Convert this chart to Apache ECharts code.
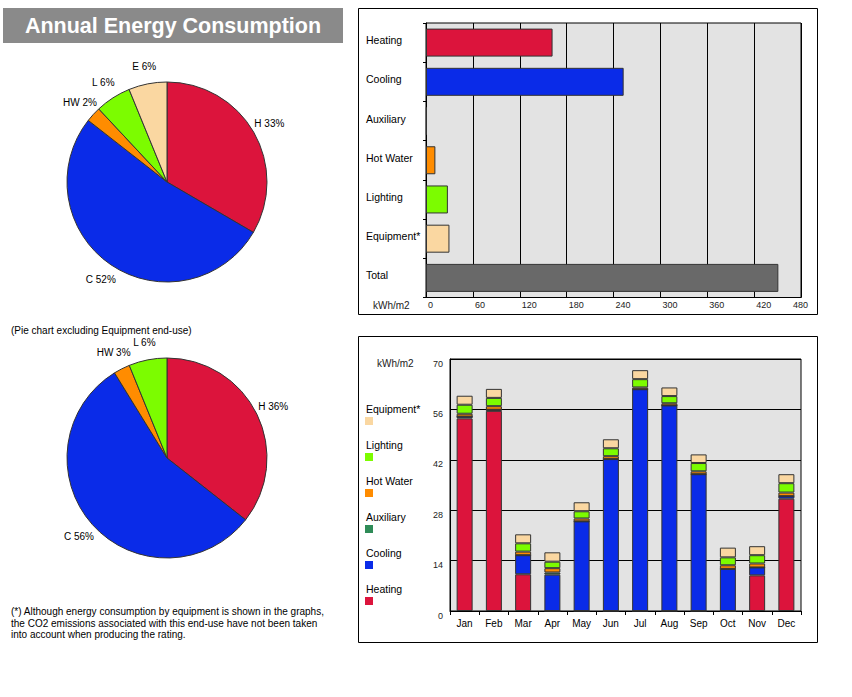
<!DOCTYPE html>
<html>
<head>
<meta charset="utf-8">
<script src="https://cdn.jsdelivr.net/npm/echarts@6/dist/echarts.min.js"></script>
<style>
html,body{margin:0;padding:0;background:#fff;}
#main{width:852px;height:697px;}
</style>
</head>
<body>
<div id="main"></div>
<script>
// ---- data ----
const endUses = ['Heating', 'Cooling', 'Auxiliary', 'Hot Water', 'Lighting', 'Equipment*', 'Total'];
const annualValues = [162, 253, 1, 12, 28, 30, 451];

const pieNames = ['Heating', 'Cooling', 'Hot Water', 'Lighting', 'Equipment*'];
const pieAbbr = ['H', 'C', 'HW', 'L', 'E'];
const pieValues = [162, 253, 12, 28, 30];
const pie2Names = ['Heating', 'Cooling', 'Hot Water', 'Lighting'];
const pie2Abbr = ['H', 'C', 'HW', 'L'];
const pie2Values = [162, 253, 12, 28];

const months = ['Jan', 'Feb', 'Mar', 'Apr', 'May', 'Jun', 'Jul', 'Aug', 'Sep', 'Oct', 'Nov', 'Dec'];
const heatingM = [53.5, 55.6, 10.2, 0, 0, 0, 0, 0, 0, 0, 9.9, 31.2];
const coolingM = [0.5, 0.3, 5.3, 10.1, 24.9, 42.2, 61.6, 57.1, 38.0, 11.7, 2.2, 0.7];
const auxiliaryM = [0, 0, 0, 0.6, 0, 0, 0, 0, 0, 0, 0, 0];
const hotWaterM = [0.8, 1.0, 1.0, 1.2, 0.8, 0.8, 0.5, 0.6, 0.8, 1.0, 1.1, 1.0];
const lightingM = [2.5, 2.3, 2.3, 1.8, 2.0, 2.2, 2.3, 2.0, 2.3, 2.2, 2.3, 2.6];
const equipmentM = [2.5, 2.5, 2.5, 2.6, 2.5, 2.5, 2.5, 2.4, 2.4, 2.7, 2.5, 2.5];

const yTicksMonthly = [0, 14, 28, 42, 56, 70];
const xTicksAnnual = [0, 60, 120, 180, 240, 300, 360, 420, 480];

// ---- styles ----
const FONT = '"Liberation Sans", Arial, sans-serif';
const colors = {
  'Heating': '#dc143c',
  'Cooling': '#0a2be8',
  'Auxiliary': '#2e8b57',
  'Hot Water': '#ff8c00',
  'Lighting': '#7cfc00',
  'Equipment*': '#fad7a1',
  'Total': '#696969'
};
const EDGE = '#333';
const PLOTBG = '#e3e3e3';

const chart = echarts.init(document.getElementById('main'), null, {renderer: 'svg', width: 852, height: 697});

function pieSeries(names, values, cy) {
  return {
    type: 'pie',
    center: [167, cy],
    radius: 100,
    startAngle: 90,
    clockwise: true,
    silent: true,
    data: names.map((n, i) => ({name: n, value: values[i], itemStyle: {color: colors[n]}})),
    itemStyle: {borderColor: EDGE, borderWidth: 1},
    label: {show: false},
    labelLine: {show: false},
    emphasis: {disabled: true}
  };
}
// transparent companion pie: carries the percentage labels, centred ~115px from the centre
function pieLabelSeries(names, abbr, values, cy) {
  return {
    type: 'pie',
    center: [167, cy],
    radius: [0, 230],
    startAngle: 90,
    clockwise: true,
    silent: true,
    z: 3,
    data: names.map((n, i) => ({name: n, value: values[i]})),
    itemStyle: {color: 'rgba(0,0,0,0)', borderWidth: 0},
    label: {
      show: true,
      position: 'inside',
      color: '#000',
      fontFamily: FONT,
      fontSize: 10,
      formatter: p => abbr[p.dataIndex] + ' ' + Math.round(p.percent) + '%'
    },
    labelLine: {show: false},
    emphasis: {disabled: true}
  };
}

const stackOrder = [
  ['Heating', heatingM],
  ['Cooling', coolingM],
  ['Auxiliary', auxiliaryM],
  ['Hot Water', hotWaterM],
  ['Lighting', lightingM],
  ['Equipment*', equipmentM]
];
const legendOrder = ['Equipment*', 'Lighting', 'Hot Water', 'Auxiliary', 'Cooling', 'Heating'];

const option = {
  animation: false,
  textStyle: {fontFamily: FONT},
  graphic: [
    {type: 'rect', shape: {x: 3, y: 8, width: 340, height: 35}, style: {fill: '#8a8a8a'}, silent: true},
    {type: 'text', x: 173, y: 26, style: {text: 'Annual Energy Consumption', fill: '#fff', font: 'bold 21.5px ' + FONT, textAlign: 'center', textVerticalAlign: 'middle'}, silent: true},
    {type: 'rect', shape: {x: 358.5, y: 8.5, width: 459, height: 306}, style: {fill: 'none', stroke: '#000', lineWidth: 1}, silent: true},
    {type: 'rect', shape: {x: 358.5, y: 336.5, width: 459, height: 306}, style: {fill: 'none', stroke: '#000', lineWidth: 1}, silent: true},
    {type: 'text', x: 373, y: 305, style: {text: 'kWh/m2', fill: '#222', font: '10px ' + FONT, textVerticalAlign: 'middle'}, silent: true},
    {type: 'text', x: 377, y: 363, style: {text: 'kWh/m2', fill: '#222', font: '10px ' + FONT, textVerticalAlign: 'middle'}, silent: true},
    {type: 'text', x: 11, y: 330, style: {text: '(Pie chart excluding Equipment end-use)', fill: '#000', font: '10px ' + FONT, textVerticalAlign: 'middle'}, silent: true},
    {type: 'text', x: 11, y: 606, style: {text: '(*) Although energy consumption by equipment is shown in the graphs,\nthe CO2 emissions associated with this end-use have not been taken\ninto account when producing the rating.', fill: '#000', font: '10px ' + FONT, lineHeight: 11.5}, silent: true}
  ],
  legend: [
    {
      orient: 'vertical', left: 360, top: 412, itemWidth: 8, itemHeight: 8, itemGap: 28,
      icon: 'rect', selectedMode: false, data: legendOrder,
      formatter: () => '', textStyle: {fontSize: 8, lineHeight: 8},
      itemStyle: {borderWidth: 0}
    },
    {
      orient: 'vertical', left: 356, top: 398, itemWidth: 0, itemHeight: 0, itemGap: 24,
      icon: 'rect', selectedMode: false, data: legendOrder,
      textStyle: {fontSize: 10.5, lineHeight: 12, color: '#000', fontFamily: FONT},
      itemStyle: {opacity: 0, borderWidth: 0}
    }
  ],
  grid: [
    {left: 426, top: 23, width: 375, height: 274.5, show: true, backgroundColor: PLOTBG, borderColor: '#000', borderWidth: 1},
    {left: 450, top: 359, width: 351, height: 252, show: true, backgroundColor: PLOTBG, borderColor: '#000', borderWidth: 1}
  ],
  xAxis: [
    {
      gridIndex: 0, type: 'value', min: xTicksAnnual[0], max: xTicksAnnual[xTicksAnnual.length - 1], interval: 60,
      axisLine: {show: true, lineStyle: {color: '#000'}}, axisTick: {show: false},
      splitLine: {show: true, lineStyle: {color: '#000', width: 1}},
      axisLabel: {color: '#222', fontSize: 9, margin: 3, align: 'left', padding: [0, 0, 0, 2], fontFamily: FONT,
        formatter: v => v === 480 ? '{e|480}' : String(v),
        rich: {e: {fontSize: 9, color: '#222', fontFamily: FONT, padding: [0, 0, 0, -10]}}}
    },
    {
      gridIndex: 1, type: 'category', data: months,
      axisLine: {show: true, lineStyle: {color: '#000'}},
      axisTick: {show: true, length: 4, lineStyle: {color: '#000'}},
      axisLabel: {color: '#000', fontSize: 10, margin: 7, fontFamily: FONT}
    }
  ],
  yAxis: [
    {
      gridIndex: 0, type: 'category', data: endUses, inverse: true,
      axisLine: {show: true, lineStyle: {color: '#000'}},
      axisTick: {show: true, length: 3, lineStyle: {color: '#000'}},
      axisLabel: {color: '#000', fontSize: 10.5, align: 'left', margin: 60, fontFamily: FONT,
        formatter: v => '{c|' + v + '}',
        rich: {c: {fontSize: 10.5, color: '#000', fontFamily: FONT, padding: [0, 0, 5, 0]}}}
    },
    {
      gridIndex: 1, type: 'value', min: yTicksMonthly[0], max: yTicksMonthly[yTicksMonthly.length - 1], interval: 14,
      axisLine: {show: true, lineStyle: {color: '#000'}}, axisTick: {show: false},
      splitLine: {show: true, lineStyle: {color: '#000', width: 1}},
      axisLabel: {color: '#222', fontSize: 9, margin: 7, verticalAlign: 'top', fontFamily: FONT}
    }
  ],
  series: [
    pieSeries(pieNames, pieValues, 182),
    pieLabelSeries(pieNames, pieAbbr, pieValues, 182),
    pieSeries(pie2Names, pie2Values, 458),
    pieLabelSeries(pie2Names, pie2Abbr, pie2Values, 458),
    {
      type: 'bar', xAxisIndex: 0, yAxisIndex: 0, barWidth: 28, silent: true,
      data: endUses.map((n, i) => ({value: annualValues[i], itemStyle: {color: colors[n]}})),
      itemStyle: {borderColor: EDGE, borderWidth: 1}
    }
  ].concat(stackOrder.map(([name, vals]) => ({
    type: 'bar', name: name, xAxisIndex: 1, yAxisIndex: 1, stack: 'm', barWidth: 16, silent: true,
    data: vals,
    itemStyle: {color: colors[name], borderColor: EDGE, borderWidth: 1}
  })))
};

chart.setOption(option);
</script>
</body>
</html>
